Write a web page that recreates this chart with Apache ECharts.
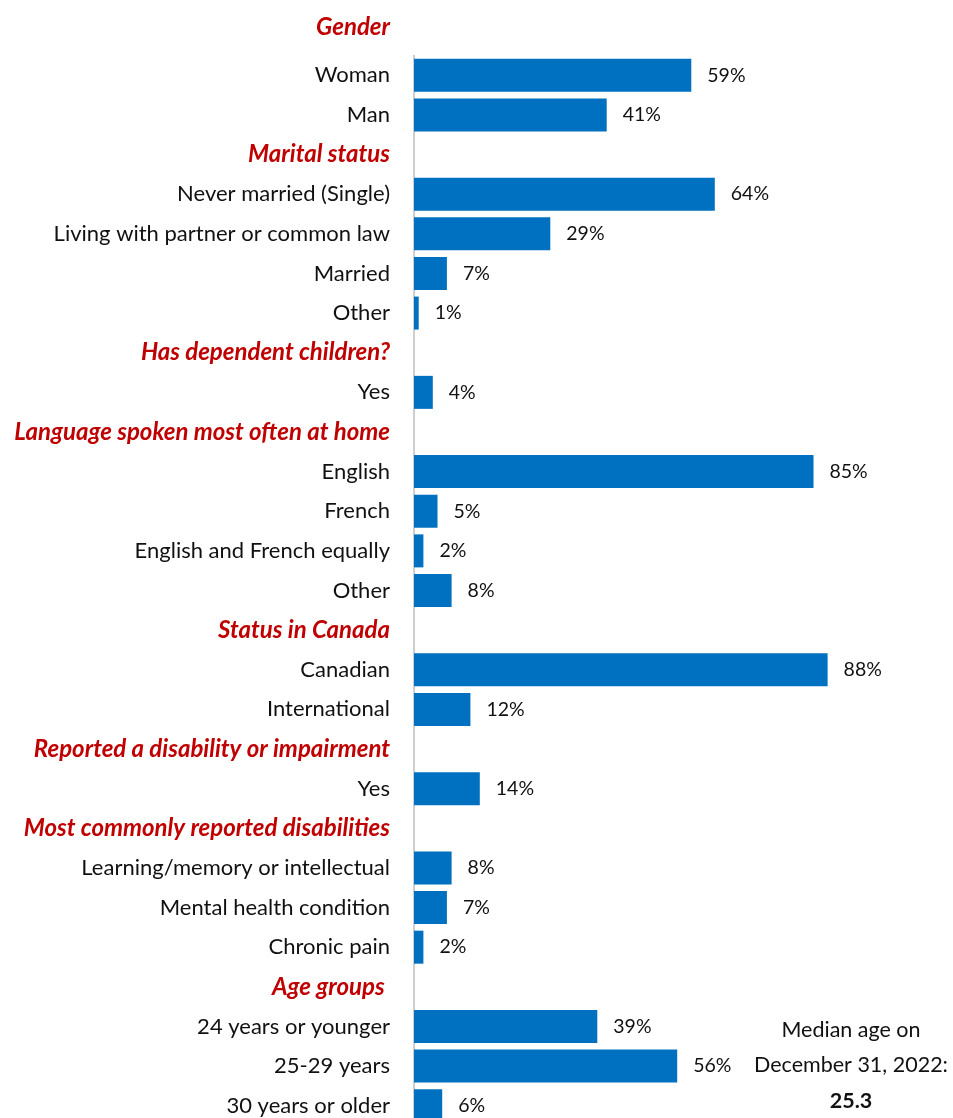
<!DOCTYPE html>
<html>
<head>
<meta charset="utf-8">
<script src="https://cdn.jsdelivr.net/npm/echarts@6/dist/echarts.min.js"></script>
<style>
  html, body { margin: 0; padding: 0; background: #ffffff; }
  #chart { width: 953px; height: 1118px; }
</style>
</head>
<body>
<div id="chart"></div>
<script>
// Heading shown above the first group
const topHeading = 'Gender';

// Row labels, top to bottom; section headings share the axis with the answers
const categories = [
  'Woman', 'Man',
  'Marital status',
  'Never married (Single)', 'Living with partner or common law', 'Married', 'Other',
  'Has dependent children?',
  'Yes',
  'Language spoken most often at home',
  'English', 'French', 'English and French equally', 'Other',
  'Status in Canada',
  'Canadian', 'International',
  'Reported a disability or impairment',
  'Yes',
  'Most commonly reported disabilities',
  'Learning/memory or intellectual', 'Mental health condition', 'Chronic pain',
  'Age groups ',
  '24 years or younger', '25-29 years', '30 years or older'
];

// Percent of respondents; null marks a section heading row
const values = [
  59, 41,
  null,
  64, 29, 7, 1,
  null,
  4,
  null,
  85, 5, 2, 8,
  null,
  88, 12,
  null,
  14,
  null,
  8, 7, 2,
  null,
  39, 56, 6
];

// Side note about age
const noteLines = ['Median age on', 'December 31, 2022:'];
const medianAge = '25.3';

const isHeading = values.map(v => v === null);

const chart = echarts.init(document.getElementById('chart'), null, { renderer: 'canvas' });

const fontFamily = 'Lato, "Open Sans", sans-serif';

chart.setOption({
  animation: false,
  backgroundColor: '#ffffff',
  grid: {
    left: 414, top: 55.5, width: 470, height: 1070,
    containLabel: false,
    outerBoundsMode: 'none'
  },
  xAxis: {
    type: 'value', min: 0, max: 100,
    show: false
  },
  yAxis: {
    type: 'category',
    inverse: true,
    data: categories,
    axisLine: { show: true, lineStyle: { color: '#BFBFBF', width: 1.5 } },
    axisTick: { show: false },
    axisLabel: {
      margin: 24,
      formatter: (val, idx) => isHeading[idx] ? '{h|' + val + '}' : '{c|' + val + '}',
      rich: {
        h: { color: '#C00000', fontWeight: 'bold', fontStyle: 'italic', fontSize: 24, fontFamily },
        c: { color: '#111111', fontSize: 22, fontFamily }
      }
    }
  },
  series: [{
    type: 'bar',
    data: values,
    barWidth: 33,
    itemStyle: { color: '#0070C0' },
    label: {
      show: true,
      position: 'right',
      distance: 16,
      formatter: p => p.value + '%',
      color: '#111111',
      fontSize: 19.5,
      fontFamily
    }
  }],
  graphic: [
    {
      type: 'text', x: 390, y: 27,
      style: {
        text: topHeading, align: 'right', verticalAlign: 'middle',
        fill: '#C00000', font: 'italic bold 24px ' + fontFamily
      }
    },
    {
      type: 'text', x: 851, y: 1030,
      style: { text: noteLines[0], align: 'center', verticalAlign: 'middle', fill: '#111111', font: '21.5px ' + fontFamily }
    },
    {
      type: 'text', x: 851, y: 1065,
      style: { text: noteLines[1], align: 'center', verticalAlign: 'middle', fill: '#111111', font: '21.5px ' + fontFamily }
    },
    {
      type: 'text', x: 851, y: 1101,
      style: { text: medianAge, align: 'center', verticalAlign: 'middle', fill: '#111111', font: 'bold 21.5px ' + fontFamily }
    }
  ]
});
</script>
</body>
</html>
